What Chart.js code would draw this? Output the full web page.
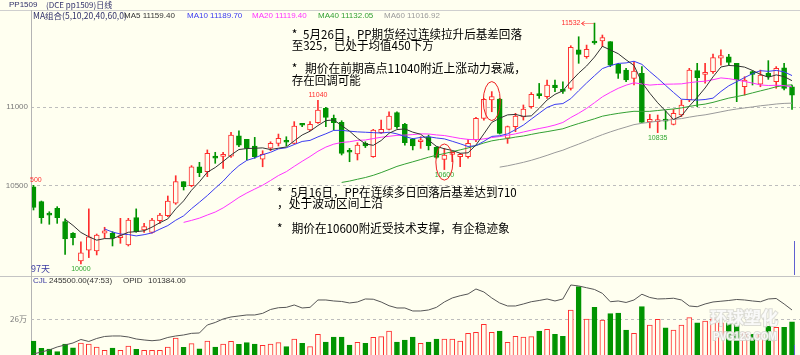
<!DOCTYPE html>
<html>
<head>
<meta charset="utf-8">
<script src="https://cdn.jsdelivr.net/npm/chart.js@4.4.0/dist/chart.umd.min.js"></script>
<style>
html,body{margin:0;padding:0;background:#fffff0;width:800px;height:355px;overflow:hidden}
#wrap{position:relative;width:800px;height:355px;overflow:hidden}
canvas{position:absolute;left:0;top:0}
</style>
</head>
<body>
<div id="wrap">
<canvas id="cPrice" width="800" height="355"></canvas>
<canvas id="cVol" width="800" height="400"></canvas>
</div>
<script>
// daily candles, PP1509, 97 trading days
const opens=[10491,10396,10313,10354,10269,10195,10019,10088,10082,10195,
10195,10167,10120,10294,10216,10201,10275,10307,10386,10523,
10498,10618,10587,10686,10684,10686,10814,10793,10750,10667,
10736,10767,10784,10767,10886,10852,10898,10989,10926,10901,
10714,10699,10767,10682,10835,10856,10962,10888,10792,10777,
10809,10742,10665,10697,10682,10682,10788,10926,11043,11049,
10800,10873,10935,11000,11075,11064,11138,11102,11117,11361,
11318,11410,11418,11414,11270,11233,11180,11212,10903,10905,
10912,10888,10947,11043,11229,11206,11223,11308,11318,11276,
11127,11223,11144,11212,11159,11248,11127];
const highs=[10500,10400,10332,10364,10286,10200,10141,10350,10190,10233,
10205,10290,10290,10350,10258,10290,10322,10432,10561,10523,
10625,10646,10725,10710,10710,10837,10846,10793,10805,10720,
10777,10826,10809,10905,10890,10905,11040,10996,10947,10911,
10735,10771,10777,10856,10915,10968,10968,10894,10799,10809,
10820,10746,10735,10714,10703,10792,10932,11053,11096,11053,
10877,10958,11011,11090,11148,11170,11170,11159,11388,11445,
11392,11532,11456,11414,11276,11244,11286,11255,10951,10947,
10973,10983,11043,11244,11276,11276,11335,11361,11333,11276,
11191,11229,11233,11293,11255,11276,11138];
const lows=[10343,10258,10252,10258,10061,10120,10000,10040,10057,10163,
10114,10131,10114,10201,10201,10195,10258,10300,10379,10470,
10491,10555,10555,10640,10608,10678,10746,10661,10672,10618,
10720,10750,10750,10763,10873,10848,10894,10873,10852,10693,
10650,10661,10740,10678,10830,10852,10862,10756,10725,10735,
10725,10672,10600,10650,10619,10672,10778,10915,10968,10826,
10767,10841,10915,10990,11053,11053,11096,11085,11106,11276,
11308,11397,11382,11255,11180,11159,11138,10900,10865,10835,
10856,10884,10937,11032,11000,11149,11212,11265,11265,11032,
11074,11138,11127,11174,11117,11106,10983];
const closes=[10360,10294,10310,10294,10159,10167,10071,10173,10184,10210,
10163,10170,10279,10205,10237,10279,10311,10400,10523,10491,
10618,10580,10704,10672,10686,10820,10756,10735,10682,10697,
10767,10799,10774,10877,10882,10888,10979,10932,10898,10703,
10710,10756,10750,10852,10856,10941,10873,10771,10750,10788,
10752,10678,10693,10699,10697,10767,10926,11047,11064,10830,
10873,10941,10985,11079,11070,11138,11121,11098,11378,11333,
11365,11405,11439,11265,11212,11170,11227,10900,10920,10908,
10908,10958,11011,11233,11185,11208,11312,11325,11282,11170,
11170,11206,11201,11191,11244,11117,11074];
// CJL volume
const volumes=[136600,95000,91000,75700,119500,98400,125000,119500,102400,83600,
96700,83600,108100,89300,83600,83600,83600,102400,153600,100700,
121200,92700,136600,102400,119500,134800,117800,127000,119500,112000,
119500,127000,104100,148000,123400,104100,174500,130900,159300,159300,
113800,129000,123400,157400,161000,193500,130900,142300,159300,123400,
130900,148000,148000,148000,136600,180100,185800,231400,185800,193500,
129000,163000,159300,161000,193500,203000,174500,163000,313000,445600,
261700,328300,256000,292000,295900,199200,180100,331700,227600,260000,
212200,199000,227600,270000,240000,250000,262000,240000,240000,235000,
185000,175000,175000,220000,215000,215000,245500];
// OPID open interest
const opid=[66200,67800,69400,71800,73400,75000,77800,76200,78600,80200,
80600,80600,79800,78200,77400,76800,77400,79400,80600,81400,
82700,83000,89400,91400,94200,95800,96600,97400,97400,98700,
101800,103200,103500,105400,103000,103500,109400,109400,108600,108200,
107000,107800,110200,110000,107800,104800,103000,103000,100600,100600,
101400,103500,107800,111000,112800,114200,118200,115800,111000,107000,
104600,104600,106200,108000,109000,110200,108600,110200,121400,120600,
119200,117800,114700,108000,108600,107400,109400,114000,111400,110200,
110400,110800,109400,104600,104000,106200,107800,108400,109000,109800,
109400,108600,108000,110200,110600,106200,101384];

const maPeriods=[5,10,20,40,60];
const maValues=['11159.40','11189.70','11119.40','11132.05','11016.92'];
const priceTicks=[10500,11000];
const priceTickLabels=['10500','11000'];
const volTicks=[260000];
const volTickLabels=['26万'];

const RED='#ff2d2d', GREEN='#009400', BG='#fffff0';
const maColors=['#333333','#3b3bf0','#ff33ff','#33a033','#9a9a9a'];

function movingAvg(arr,n){
  return arr.map((_,i)=> i<n-1 ? null : arr.slice(i-n+1,i+1).reduce((a,b)=>a+b,0)/n);
}

const idx=closes.map((_,i)=>i);
const isUp=idx.map(i=>closes[i]>=opens[i]);

function fitText(ctx,txt,x,y,w,font,color){
  ctx.save();
  ctx.font=font; ctx.fillStyle=color; ctx.textBaseline='middle'; ctx.textAlign='left';
  const m=ctx.measureText(txt).width;
  ctx.translate(x,y); ctx.scale(w/m,1);
  ctx.fillText(txt,0,0);
  ctx.restore();
}
function txt(ctx,s,x,y,font,color,align,base){
  ctx.save();
  ctx.font=font; ctx.fillStyle=color; ctx.textAlign=align||'left'; ctx.textBaseline=base||'middle';
  ctx.fillText(s,x,y);
  ctx.restore();
}

const SMALL='7px "Liberation Sans", Arial, sans-serif';
const LEG='8px "Liberation Sans", Arial, sans-serif';
const CJK='12px "Noto Sans CJK SC", sans-serif';

const pricePlugin={
  id:'priceDecor',
  beforeDatasetsDraw(chart){
    const {ctx,scales:{y},chartArea:a}=chart;
    ctx.save();
    ctx.strokeStyle='#bdbdbd'; ctx.lineWidth=1; ctx.setLineDash([3,3]);
    priceTicks.forEach(v=>{
      const py=Math.round(y.getPixelForValue(v))+0.5;
      ctx.beginPath(); ctx.moveTo(a.left,py); ctx.lineTo(a.right,py); ctx.stroke();
    });
    ctx.restore();
  },
  afterDraw(chart){
    const {ctx,scales:{x,y}}=chart;
    // frame
    ctx.save();
    ctx.lineWidth=1;
    ctx.strokeStyle='#cfcfcf';
    ctx.beginPath(); ctx.moveTo(0,10.5); ctx.lineTo(800,10.5); ctx.stroke();
    ctx.strokeStyle='#c4c4c4';
    ctx.beginPath(); ctx.moveTo(0,276.5); ctx.lineTo(800,276.5); ctx.stroke();
    ctx.strokeStyle='#b4b4b4';
    ctx.beginPath(); ctx.moveTo(31.5,10); ctx.lineTo(31.5,355); ctx.stroke();
    // cursor mark
    ctx.strokeStyle='#6060d0';
    ctx.beginPath(); ctx.moveTo(794.5,241); ctx.lineTo(794.5,275); ctx.stroke();
    ctx.restore();

    // tick labels
    priceTicks.forEach((v,k)=>txt(ctx,priceTickLabels[k],28,y.getPixelForValue(v),LEG,'#7a7a7a','right'));

    // title + legend
    txt(ctx,'PP1509',9,4.5,LEG,'#30306a');
    txt(ctx,'(DCE pp1509)日线',46,4.5,'8px "Noto Sans CJK SC", sans-serif','#30306a');
    txt(ctx,'MA组合(5,10,20,40,60,0)',33,16,'8.5px "Noto Sans CJK SC", sans-serif','#30306a');
    const legX=[124,187,252,318,384];
    maPeriods.forEach((p,k)=>txt(ctx,'MA'+p+' '+maValues[k],legX[k],16,LEG,maColors[k]));
    txt(ctx,'97天',31,269,'9px "Noto Sans CJK SC", sans-serif','#3a3aa0');

    // high / low marks
    const hiMark=(i,s)=>txt(ctx,s,x.getPixelForValue(i),y.getPixelForValue(highs[i])-2,SMALL,RED,'center','bottom');
    const loMark=(i,s)=>txt(ctx,s,x.getPixelForValue(i),y.getPixelForValue(lows[i])+2,SMALL,'#33a833','center','top');
    txt(ctx,'500',30,y.getPixelForValue(highs[0])-2,SMALL,RED,'left','bottom');
    hiMark(36,'11040');
    loMark(6,'10000');
    loMark(52,'10600');
    loMark(79,'10835');
    const hx=x.getPixelForValue(71), hy=y.getPixelForValue(highs[71]);
    txt(ctx,'11532',hx-14,hy,SMALL,RED,'right','middle');
    ctx.save();
    ctx.strokeStyle=RED; ctx.lineWidth=1;
    ctx.setLineDash([1,1]);
    ctx.beginPath(); ctx.moveTo(hx-12,Math.round(hy)+0.5); ctx.lineTo(hx-1,Math.round(hy)+0.5); ctx.stroke();
    ctx.setLineDash([]);
    ctx.beginPath(); ctx.moveTo(hx-10,Math.round(hy)-1.5); ctx.lineTo(hx-13,Math.round(hy)+0.5); ctx.lineTo(hx-10,Math.round(hy)+2.5); ctx.stroke();
    ctx.restore();

    // circled candles
    ctx.save();
    ctx.strokeStyle='#ee2020'; ctx.lineWidth=1;
    [[52,10648,115],[58,11036,124]].forEach(([i,c,h])=>{
      const cx=x.getPixelForValue(i), cy=y.getPixelForValue(c);
      const ry=y.getPixelForValue(c-h)-cy;
      ctx.beginPath(); ctx.ellipse(cx,cy,8.5,ry,0,0,Math.PI*2); ctx.stroke();
    });
    ctx.restore();

    // comments
    txt(ctx,'*',291.7,34,CJK,'#000');
    fitText(ctx,'5月26日，PP期货经过连续拉升后基差回落',303,34,219,CJK,'#000');
    fitText(ctx,'至325，已处于均值450下方',291.7,45.5,142,CJK,'#000');
    txt(ctx,'*',291.7,68.5,CJK,'#000');
    fitText(ctx,'期价在前期高点11040附近上涨动力衰减，',305,68.5,221,CJK,'#000');
    fitText(ctx,'存在回调可能',291.7,80,69,CJK,'#000');

    txt(ctx,'*',277,192.5,CJK,'#000');
    fitText(ctx,'5月16日，PP在连续多日回落后基差达到710',290.7,192.5,226,CJK,'#000');
    fitText(ctx,'，处于波动区间上沿',277,203.5,106,CJK,'#000');
    txt(ctx,'*',277,228,CJK,'#000');
    fitText(ctx,'期价在10600附近受技术支撑，有企稳迹象',291.7,228,218,CJK,'#000');
  }
};

const maSets=maPeriods.map((p,k)=>({
  type:'line',
  data:movingAvg(closes,p).map((v,i)=>({x:i,y:v})),
  borderColor:maColors[k],
  borderWidth:1,
  pointRadius:0,
  tension:0,
  spanGaps:false,
  order:1
}));

new Chart(document.getElementById('cPrice'),{
  type:'bar',
  data:{datasets:[
    {
      data:idx.map(i=>({x:i,y:[lows[i],highs[i]]})),
      backgroundColor:idx.map(i=>isUp[i]?RED:GREEN),
      borderWidth:0,
      barThickness:1,
      grouped:false,
      order:3
    },
    {
      data:idx.map(i=>({x:i,y:[opens[i],closes[i]]})),
      backgroundColor:idx.map(i=>isUp[i]?BG:GREEN),
      borderColor:idx.map(i=>isUp[i]?RED:GREEN),
      borderWidth:1,
      borderSkipped:false,
      barThickness:5,
      minBarLength:2,
      grouped:false,
      order:2
    },
    ...maSets
  ]},
  options:{
    responsive:false,
    animation:false,
    layout:{padding:{left:31,right:0,top:11,bottom:83}},
    plugins:{legend:{display:false},tooltip:{enabled:false}},
    scales:{
      x:{type:'linear',display:false,offset:false,min:-0.316,max:97.01},
      y:{display:false,min:9948.5,max:11608.8}
    }
  },
  plugins:[pricePlugin]
});

const volPlugin={
  id:'volDecor',
  beforeDatasetsDraw(chart){
    const {ctx,scales:{y},chartArea:a}=chart;
    ctx.save();
    ctx.strokeStyle='#bdbdbd'; ctx.lineWidth=1; ctx.setLineDash([3,3]);
    volTicks.forEach(v=>{
      const py=Math.round(y.getPixelForValue(v))+0.5;
      ctx.beginPath(); ctx.moveTo(a.left,py); ctx.lineTo(a.right,py); ctx.stroke();
    });
    ctx.restore();
    volTicks.forEach((v,k)=>txt(ctx,volTickLabels[k],27,y.getPixelForValue(v),'8px "Noto Sans CJK SC", sans-serif','#7a7a7a','right'));
  },
  afterDraw(chart){
    const {ctx}=chart;
    txt(ctx,'CJL',33,281,LEG,'#3a3aa0');
    txt(ctx,'245500.00(47:53)',49,281,LEG,'#333');
    txt(ctx,'OPID',123,281,LEG,'#333');
    txt(ctx,'101384.00',148,281,LEG,'#333');
    // watermark
    ctx.save();
    ctx.globalAlpha=0.85;
    ctx.font='bold 17px "Noto Sans CJK SC", sans-serif';
    ctx.textBaseline='middle';
    ctx.lineWidth=2; ctx.strokeStyle='#d6d6d0';
    ctx.strokeText('环球塑化',710,318);
    ctx.fillStyle='#ffffff';
    ctx.fillText('环球塑化',710,318);
    ctx.font='bold 10px "Liberation Sans", Arial, sans-serif';
    ctx.strokeText('PVG123.COM',713,337);
    ctx.fillText('PVG123.COM',713,337);
    ctx.restore();
    ctx.save();
    ctx.strokeStyle='#6060d0'; ctx.lineWidth=1;
    ctx.beginPath(); ctx.moveTo(794.5,345); ctx.lineTo(794.5,356); ctx.stroke();
    ctx.restore();
  }
};

new Chart(document.getElementById('cVol'),{
  type:'bar',
  data:{datasets:[
    {
      type:'line',
      data:idx.map(i=>({x:i,y:opid[i]})),
      yAxisID:'y2',
      borderColor:'#555555',
      borderWidth:1,
      pointRadius:0,
      tension:0,
      order:0
    },
    {
      data:idx.map(i=>({x:i,y:volumes[i]})),
      backgroundColor:idx.map(i=>isUp[i]?BG:GREEN),
      borderColor:idx.map(i=>isUp[i]?RED:GREEN),
      borderWidth:1,
      borderSkipped:false,
      barThickness:5,
      order:1
    }
  ]},
  options:{
    responsive:false,
    animation:false,
    layout:{padding:{left:31,right:0,top:277,bottom:35}},
    plugins:{legend:{display:false},tooltip:{enabled:false}},
    scales:{
      x:{type:'linear',display:false,offset:false,min:-0.316,max:97.01},
      y:{display:false,min:0,max:500720},
      y2:{display:false,min:57384,max:127784}
    }
  },
  plugins:[volPlugin]
});
</script>
</body>
</html>
